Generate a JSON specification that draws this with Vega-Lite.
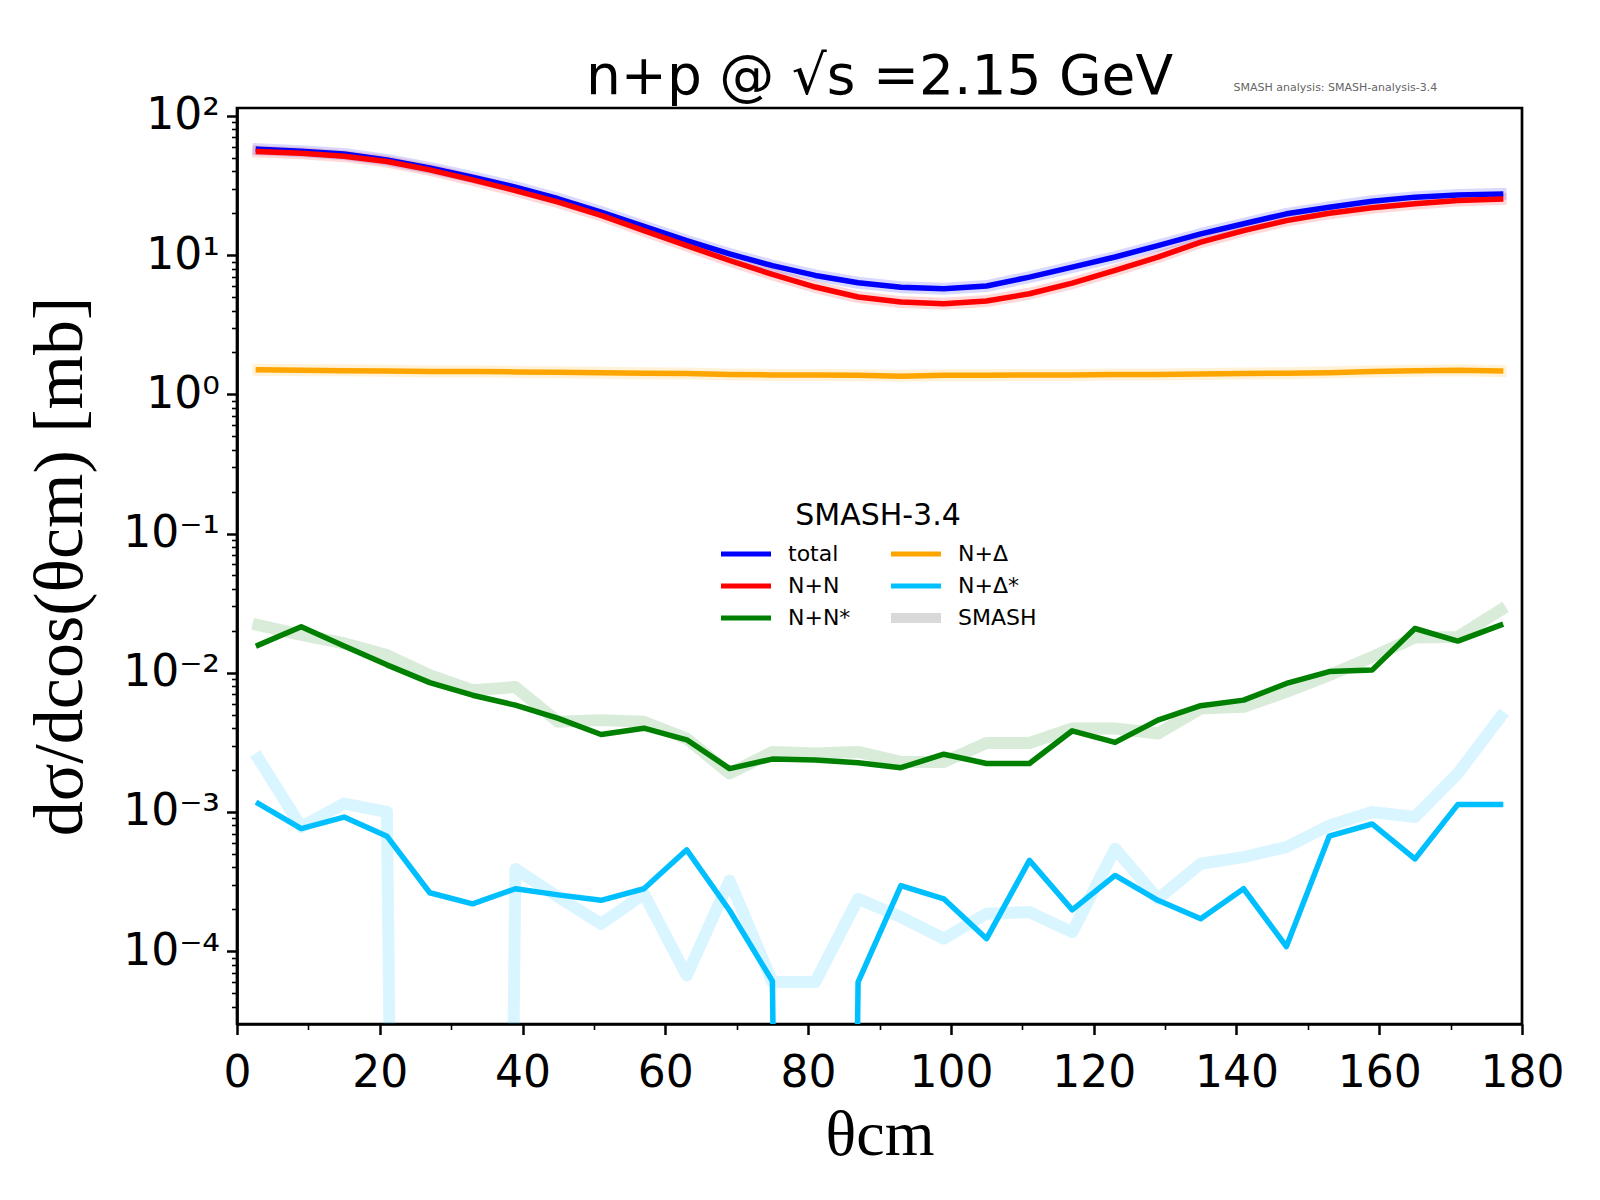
{
  "$schema": "https://vega.github.io/schema/vega-lite/v6.json",
  "autosize": {"type": "none"},
  "padding": {"left": 237, "top": 108, "right": 78, "bottom": 176},
  "width": 1285,
  "height": 916,
  "background": "white",
  "config": {
    "view": {"stroke": "black", "strokeWidth": 2.7},
    "axis": {"grid": false, "domainColor": "black", "domainWidth": 2.7, "tickColor": "black", "labelColor": "black", "titleColor": "black", "labelFont": "DejaVu Sans", "labelFontSize": 44, "labelOverlap": false, "labelFlush": false, "labelBound": false}
  },
  "title": {"text": "n+p @ √s =2.15 GeV", "font": "DejaVu Sans", "fontSize": 55, "fontWeight": "normal", "color": "black", "anchor": "middle", "frame": "group", "offset": 2, "dy": 26},
  "datasets": {
    "xs": [
      {"theta":3,"xsec":57.7,"channel":"total","source":"model"},{"theta":9,"xsec":55.7,"channel":"total","source":"model"},{"theta":15,"xsec":53.3,"channel":"total","source":"model"},{"theta":21,"xsec":48.3,"channel":"total","source":"model"},{"theta":27,"xsec":42.3,"channel":"total","source":"model"},{"theta":33,"xsec":36.3,"channel":"total","source":"model"},{"theta":39,"xsec":30.8,"channel":"total","source":"model"},{"theta":45,"xsec":25.4,"channel":"total","source":"model"},{"theta":51,"xsec":20.4,"channel":"total","source":"model"},{"theta":57,"xsec":16.1,"channel":"total","source":"model"},{"theta":63,"xsec":12.7,"channel":"total","source":"model"},{"theta":69,"xsec":10.2,"channel":"total","source":"model"},{"theta":75,"xsec":8.4,"channel":"total","source":"model"},{"theta":81,"xsec":7.15,"channel":"total","source":"model"},{"theta":87,"xsec":6.33,"channel":"total","source":"model"},{"theta":93,"xsec":5.89,"channel":"total","source":"model"},{"theta":99,"xsec":5.73,"channel":"total","source":"model"},{"theta":105,"xsec":6.0,"channel":"total","source":"model"},{"theta":111,"xsec":6.95,"channel":"total","source":"model"},{"theta":117,"xsec":8.2,"channel":"total","source":"model"},{"theta":123,"xsec":9.7,"channel":"total","source":"model"},{"theta":129,"xsec":11.7,"channel":"total","source":"model"},{"theta":135,"xsec":14.2,"channel":"total","source":"model"},{"theta":141,"xsec":16.8,"channel":"total","source":"model"},{"theta":147,"xsec":19.8,"channel":"total","source":"model"},{"theta":153,"xsec":22.1,"channel":"total","source":"model"},{"theta":159,"xsec":24.4,"channel":"total","source":"model"},{"theta":165,"xsec":26.1,"channel":"total","source":"model"},{"theta":171,"xsec":27.0,"channel":"total","source":"model"},{"theta":177,"xsec":27.5,"channel":"total","source":"model"},

      {"theta":3,"xsec":55.5,"channel":"N+N","source":"model"},{"theta":9,"xsec":54,"channel":"N+N","source":"model"},{"theta":15,"xsec":51.4,"channel":"N+N","source":"model"},{"theta":21,"xsec":47,"channel":"N+N","source":"model"},{"theta":27,"xsec":41,"channel":"N+N","source":"model"},{"theta":33,"xsec":34.7,"channel":"N+N","source":"model"},{"theta":39,"xsec":29.1,"channel":"N+N","source":"model"},{"theta":45,"xsec":24,"channel":"N+N","source":"model"},{"theta":51,"xsec":19.3,"channel":"N+N","source":"model"},{"theta":57,"xsec":15,"channel":"N+N","source":"model"},{"theta":63,"xsec":11.7,"channel":"N+N","source":"model"},{"theta":69,"xsec":9.15,"channel":"N+N","source":"model"},{"theta":75,"xsec":7.27,"channel":"N+N","source":"model"},{"theta":81,"xsec":5.9,"channel":"N+N","source":"model"},{"theta":87,"xsec":5.0,"channel":"N+N","source":"model"},{"theta":93,"xsec":4.6,"channel":"N+N","source":"model"},{"theta":99,"xsec":4.48,"channel":"N+N","source":"model"},{"theta":105,"xsec":4.68,"channel":"N+N","source":"model"},{"theta":111,"xsec":5.28,"channel":"N+N","source":"model"},{"theta":117,"xsec":6.29,"channel":"N+N","source":"model"},{"theta":123,"xsec":7.76,"channel":"N+N","source":"model"},{"theta":129,"xsec":9.68,"channel":"N+N","source":"model"},{"theta":135,"xsec":12.4,"channel":"N+N","source":"model"},{"theta":141,"xsec":15.0,"channel":"N+N","source":"model"},{"theta":147,"xsec":17.7,"channel":"N+N","source":"model"},{"theta":153,"xsec":20.0,"channel":"N+N","source":"model"},{"theta":159,"xsec":21.9,"channel":"N+N","source":"model"},{"theta":165,"xsec":23.4,"channel":"N+N","source":"model"},{"theta":171,"xsec":24.7,"channel":"N+N","source":"model"},{"theta":177,"xsec":25.3,"channel":"N+N","source":"model"},

      {"theta":3,"xsec":0.0158,"channel":"N+N*","source":"model"},{"theta":9,"xsec":0.0214,"channel":"N+N*","source":"model"},{"theta":15,"xsec":0.0156,"channel":"N+N*","source":"model"},{"theta":21,"xsec":0.0114,"channel":"N+N*","source":"model"},{"theta":27,"xsec":0.0085,"channel":"N+N*","source":"model"},{"theta":33,"xsec":0.0069,"channel":"N+N*","source":"model"},{"theta":39,"xsec":0.00585,"channel":"N+N*","source":"model"},{"theta":45,"xsec":0.0047,"channel":"N+N*","source":"model"},{"theta":51,"xsec":0.0036,"channel":"N+N*","source":"model"},{"theta":57,"xsec":0.0040,"channel":"N+N*","source":"model"},{"theta":63,"xsec":0.0033,"channel":"N+N*","source":"model"},{"theta":69,"xsec":0.00205,"channel":"N+N*","source":"model"},{"theta":75,"xsec":0.0024,"channel":"N+N*","source":"model"},{"theta":81,"xsec":0.00236,"channel":"N+N*","source":"model"},{"theta":87,"xsec":0.00226,"channel":"N+N*","source":"model"},{"theta":93,"xsec":0.00208,"channel":"N+N*","source":"model"},{"theta":99,"xsec":0.0026,"channel":"N+N*","source":"model"},{"theta":105,"xsec":0.00223,"channel":"N+N*","source":"model"},{"theta":111,"xsec":0.00223,"channel":"N+N*","source":"model"},{"theta":117,"xsec":0.00383,"channel":"N+N*","source":"model"},{"theta":123,"xsec":0.00316,"channel":"N+N*","source":"model"},{"theta":129,"xsec":0.00457,"channel":"N+N*","source":"model"},{"theta":135,"xsec":0.0058,"channel":"N+N*","source":"model"},{"theta":141,"xsec":0.00636,"channel":"N+N*","source":"model"},{"theta":147,"xsec":0.00838,"channel":"N+N*","source":"model"},{"theta":153,"xsec":0.0102,"channel":"N+N*","source":"model"},{"theta":159,"xsec":0.01045,"channel":"N+N*","source":"model"},{"theta":165,"xsec":0.0208,"channel":"N+N*","source":"model"},{"theta":171,"xsec":0.0169,"channel":"N+N*","source":"model"},{"theta":177,"xsec":0.022,"channel":"N+N*","source":"model"},

      {"theta":3,"xsec":1.50,"channel":"N+Δ","source":"model"},{"theta":9,"xsec":1.49,"channel":"N+Δ","source":"model"},{"theta":15,"xsec":1.48,"channel":"N+Δ","source":"model"},{"theta":21,"xsec":1.47,"channel":"N+Δ","source":"model"},{"theta":27,"xsec":1.46,"channel":"N+Δ","source":"model"},{"theta":33,"xsec":1.46,"channel":"N+Δ","source":"model"},{"theta":39,"xsec":1.45,"channel":"N+Δ","source":"model"},{"theta":45,"xsec":1.44,"channel":"N+Δ","source":"model"},{"theta":51,"xsec":1.43,"channel":"N+Δ","source":"model"},{"theta":57,"xsec":1.42,"channel":"N+Δ","source":"model"},{"theta":63,"xsec":1.41,"channel":"N+Δ","source":"model"},{"theta":69,"xsec":1.39,"channel":"N+Δ","source":"model"},{"theta":75,"xsec":1.38,"channel":"N+Δ","source":"model"},{"theta":81,"xsec":1.38,"channel":"N+Δ","source":"model"},{"theta":87,"xsec":1.37,"channel":"N+Δ","source":"model"},{"theta":93,"xsec":1.35,"channel":"N+Δ","source":"model"},{"theta":99,"xsec":1.37,"channel":"N+Δ","source":"model"},{"theta":105,"xsec":1.37,"channel":"N+Δ","source":"model"},{"theta":111,"xsec":1.38,"channel":"N+Δ","source":"model"},{"theta":117,"xsec":1.38,"channel":"N+Δ","source":"model"},{"theta":123,"xsec":1.39,"channel":"N+Δ","source":"model"},{"theta":129,"xsec":1.39,"channel":"N+Δ","source":"model"},{"theta":135,"xsec":1.40,"channel":"N+Δ","source":"model"},{"theta":141,"xsec":1.41,"channel":"N+Δ","source":"model"},{"theta":147,"xsec":1.42,"channel":"N+Δ","source":"model"},{"theta":153,"xsec":1.43,"channel":"N+Δ","source":"model"},{"theta":159,"xsec":1.46,"channel":"N+Δ","source":"model"},{"theta":165,"xsec":1.48,"channel":"N+Δ","source":"model"},{"theta":171,"xsec":1.49,"channel":"N+Δ","source":"model"},{"theta":177,"xsec":1.47,"channel":"N+Δ","source":"model"},

      {"theta":3,"xsec":0.00115,"channel":"N+Δ*","source":"model"},{"theta":9,"xsec":0.00076,"channel":"N+Δ*","source":"model"},{"theta":15,"xsec":0.00092,"channel":"N+Δ*","source":"model"},{"theta":21,"xsec":0.00067,"channel":"N+Δ*","source":"model"},{"theta":27,"xsec":0.000263,"channel":"N+Δ*","source":"model"},{"theta":33,"xsec":0.000219,"channel":"N+Δ*","source":"model"},{"theta":39,"xsec":0.000281,"channel":"N+Δ*","source":"model"},{"theta":45,"xsec":0.000254,"channel":"N+Δ*","source":"model"},{"theta":51,"xsec":0.000232,"channel":"N+Δ*","source":"model"},{"theta":57,"xsec":0.000281,"channel":"N+Δ*","source":"model"},{"theta":63,"xsec":0.000535,"channel":"N+Δ*","source":"model"},{"theta":69,"xsec":0.000196,"channel":"N+Δ*","source":"model"},{"theta":75,"xsec":0.000061,"channel":"N+Δ*","source":"model"},{"theta":81,"xsec":1e-30,"channel":"N+Δ*","source":"model"},{"theta":87,"xsec":0.00006,"channel":"N+Δ*","source":"model"},{"theta":93,"xsec":0.000296,"channel":"N+Δ*","source":"model"},{"theta":99,"xsec":0.000238,"channel":"N+Δ*","source":"model"},{"theta":105,"xsec":0.000123,"channel":"N+Δ*","source":"model"},{"theta":111,"xsec":0.000449,"channel":"N+Δ*","source":"model"},{"theta":117,"xsec":0.000198,"channel":"N+Δ*","source":"model"},{"theta":123,"xsec":0.00035,"channel":"N+Δ*","source":"model"},{"theta":129,"xsec":0.000232,"channel":"N+Δ*","source":"model"},{"theta":135,"xsec":0.000171,"channel":"N+Δ*","source":"model"},{"theta":141,"xsec":0.000281,"channel":"N+Δ*","source":"model"},{"theta":147,"xsec":0.000108,"channel":"N+Δ*","source":"model"},{"theta":153,"xsec":0.00067,"channel":"N+Δ*","source":"model"},{"theta":159,"xsec":0.00082,"channel":"N+Δ*","source":"model"},{"theta":165,"xsec":0.00046,"channel":"N+Δ*","source":"model"},{"theta":171,"xsec":0.00113,"channel":"N+Δ*","source":"model"},{"theta":177,"xsec":0.00113,"channel":"N+Δ*","source":"model"},

      {"theta":3,"xsec":57.7,"channel":"total","source":"SMASH"},{"theta":9,"xsec":55.7,"channel":"total","source":"SMASH"},{"theta":15,"xsec":53.3,"channel":"total","source":"SMASH"},{"theta":21,"xsec":48.3,"channel":"total","source":"SMASH"},{"theta":27,"xsec":42.3,"channel":"total","source":"SMASH"},{"theta":33,"xsec":36.3,"channel":"total","source":"SMASH"},{"theta":39,"xsec":30.8,"channel":"total","source":"SMASH"},{"theta":45,"xsec":25.4,"channel":"total","source":"SMASH"},{"theta":51,"xsec":20.4,"channel":"total","source":"SMASH"},{"theta":57,"xsec":16.1,"channel":"total","source":"SMASH"},{"theta":63,"xsec":12.7,"channel":"total","source":"SMASH"},{"theta":69,"xsec":10.2,"channel":"total","source":"SMASH"},{"theta":75,"xsec":8.4,"channel":"total","source":"SMASH"},{"theta":81,"xsec":7.15,"channel":"total","source":"SMASH"},{"theta":87,"xsec":6.33,"channel":"total","source":"SMASH"},{"theta":93,"xsec":5.89,"channel":"total","source":"SMASH"},{"theta":99,"xsec":5.73,"channel":"total","source":"SMASH"},{"theta":105,"xsec":6.0,"channel":"total","source":"SMASH"},{"theta":111,"xsec":6.95,"channel":"total","source":"SMASH"},{"theta":117,"xsec":8.2,"channel":"total","source":"SMASH"},{"theta":123,"xsec":9.7,"channel":"total","source":"SMASH"},{"theta":129,"xsec":11.7,"channel":"total","source":"SMASH"},{"theta":135,"xsec":14.2,"channel":"total","source":"SMASH"},{"theta":141,"xsec":16.8,"channel":"total","source":"SMASH"},{"theta":147,"xsec":19.8,"channel":"total","source":"SMASH"},{"theta":153,"xsec":22.1,"channel":"total","source":"SMASH"},{"theta":159,"xsec":24.4,"channel":"total","source":"SMASH"},{"theta":165,"xsec":26.1,"channel":"total","source":"SMASH"},{"theta":171,"xsec":27.0,"channel":"total","source":"SMASH"},{"theta":177,"xsec":27.5,"channel":"total","source":"SMASH"},

      {"theta":3,"xsec":55.5,"channel":"N+N","source":"SMASH"},{"theta":9,"xsec":54,"channel":"N+N","source":"SMASH"},{"theta":15,"xsec":51.4,"channel":"N+N","source":"SMASH"},{"theta":21,"xsec":47,"channel":"N+N","source":"SMASH"},{"theta":27,"xsec":41,"channel":"N+N","source":"SMASH"},{"theta":33,"xsec":34.7,"channel":"N+N","source":"SMASH"},{"theta":39,"xsec":29.1,"channel":"N+N","source":"SMASH"},{"theta":45,"xsec":24,"channel":"N+N","source":"SMASH"},{"theta":51,"xsec":19.3,"channel":"N+N","source":"SMASH"},{"theta":57,"xsec":15,"channel":"N+N","source":"SMASH"},{"theta":63,"xsec":11.7,"channel":"N+N","source":"SMASH"},{"theta":69,"xsec":9.15,"channel":"N+N","source":"SMASH"},{"theta":75,"xsec":7.27,"channel":"N+N","source":"SMASH"},{"theta":81,"xsec":5.9,"channel":"N+N","source":"SMASH"},{"theta":87,"xsec":5.0,"channel":"N+N","source":"SMASH"},{"theta":93,"xsec":4.6,"channel":"N+N","source":"SMASH"},{"theta":99,"xsec":4.48,"channel":"N+N","source":"SMASH"},{"theta":105,"xsec":4.68,"channel":"N+N","source":"SMASH"},{"theta":111,"xsec":5.28,"channel":"N+N","source":"SMASH"},{"theta":117,"xsec":6.29,"channel":"N+N","source":"SMASH"},{"theta":123,"xsec":7.76,"channel":"N+N","source":"SMASH"},{"theta":129,"xsec":9.68,"channel":"N+N","source":"SMASH"},{"theta":135,"xsec":12.4,"channel":"N+N","source":"SMASH"},{"theta":141,"xsec":15.0,"channel":"N+N","source":"SMASH"},{"theta":147,"xsec":17.7,"channel":"N+N","source":"SMASH"},{"theta":153,"xsec":20.0,"channel":"N+N","source":"SMASH"},{"theta":159,"xsec":21.9,"channel":"N+N","source":"SMASH"},{"theta":165,"xsec":23.4,"channel":"N+N","source":"SMASH"},{"theta":171,"xsec":24.7,"channel":"N+N","source":"SMASH"},{"theta":177,"xsec":25.3,"channel":"N+N","source":"SMASH"},

      {"theta":3,"xsec":0.022,"channel":"N+N*","source":"SMASH"},{"theta":9,"xsec":0.0187,"channel":"N+N*","source":"SMASH"},{"theta":15,"xsec":0.0163,"channel":"N+N*","source":"SMASH"},{"theta":21,"xsec":0.0134,"channel":"N+N*","source":"SMASH"},{"theta":27,"xsec":0.0096,"channel":"N+N*","source":"SMASH"},{"theta":33,"xsec":0.0075,"channel":"N+N*","source":"SMASH"},{"theta":39,"xsec":0.0079,"channel":"N+N*","source":"SMASH"},{"theta":45,"xsec":0.00444,"channel":"N+N*","source":"SMASH"},{"theta":51,"xsec":0.00457,"channel":"N+N*","source":"SMASH"},{"theta":57,"xsec":0.00444,"channel":"N+N*","source":"SMASH"},{"theta":63,"xsec":0.00337,"channel":"N+N*","source":"SMASH"},{"theta":69,"xsec":0.00189,"channel":"N+N*","source":"SMASH"},{"theta":75,"xsec":0.0027,"channel":"N+N*","source":"SMASH"},{"theta":81,"xsec":0.00263,"channel":"N+N*","source":"SMASH"},{"theta":87,"xsec":0.0027,"channel":"N+N*","source":"SMASH"},{"theta":93,"xsec":0.00229,"channel":"N+N*","source":"SMASH"},{"theta":99,"xsec":0.00229,"channel":"N+N*","source":"SMASH"},{"theta":105,"xsec":0.00313,"channel":"N+N*","source":"SMASH"},{"theta":111,"xsec":0.00313,"channel":"N+N*","source":"SMASH"},{"theta":117,"xsec":0.00398,"channel":"N+N*","source":"SMASH"},{"theta":123,"xsec":0.00398,"channel":"N+N*","source":"SMASH"},{"theta":129,"xsec":0.00366,"channel":"N+N*","source":"SMASH"},{"theta":135,"xsec":0.00553,"channel":"N+N*","source":"SMASH"},{"theta":141,"xsec":0.00569,"channel":"N+N*","source":"SMASH"},{"theta":147,"xsec":0.0073,"channel":"N+N*","source":"SMASH"},{"theta":153,"xsec":0.0096,"channel":"N+N*","source":"SMASH"},{"theta":159,"xsec":0.013,"channel":"N+N*","source":"SMASH"},{"theta":165,"xsec":0.0179,"channel":"N+N*","source":"SMASH"},{"theta":171,"xsec":0.0181,"channel":"N+N*","source":"SMASH"},{"theta":177,"xsec":0.0282,"channel":"N+N*","source":"SMASH"},

      {"theta":3,"xsec":1.50,"channel":"N+Δ","source":"SMASH"},{"theta":9,"xsec":1.49,"channel":"N+Δ","source":"SMASH"},{"theta":15,"xsec":1.49,"channel":"N+Δ","source":"SMASH"},{"theta":21,"xsec":1.48,"channel":"N+Δ","source":"SMASH"},{"theta":27,"xsec":1.46,"channel":"N+Δ","source":"SMASH"},{"theta":33,"xsec":1.46,"channel":"N+Δ","source":"SMASH"},{"theta":39,"xsec":1.45,"channel":"N+Δ","source":"SMASH"},{"theta":45,"xsec":1.44,"channel":"N+Δ","source":"SMASH"},{"theta":51,"xsec":1.43,"channel":"N+Δ","source":"SMASH"},{"theta":57,"xsec":1.42,"channel":"N+Δ","source":"SMASH"},{"theta":63,"xsec":1.41,"channel":"N+Δ","source":"SMASH"},{"theta":69,"xsec":1.39,"channel":"N+Δ","source":"SMASH"},{"theta":75,"xsec":1.38,"channel":"N+Δ","source":"SMASH"},{"theta":81,"xsec":1.38,"channel":"N+Δ","source":"SMASH"},{"theta":87,"xsec":1.37,"channel":"N+Δ","source":"SMASH"},{"theta":93,"xsec":1.36,"channel":"N+Δ","source":"SMASH"},{"theta":99,"xsec":1.37,"channel":"N+Δ","source":"SMASH"},{"theta":105,"xsec":1.37,"channel":"N+Δ","source":"SMASH"},{"theta":111,"xsec":1.38,"channel":"N+Δ","source":"SMASH"},{"theta":117,"xsec":1.38,"channel":"N+Δ","source":"SMASH"},{"theta":123,"xsec":1.39,"channel":"N+Δ","source":"SMASH"},{"theta":129,"xsec":1.39,"channel":"N+Δ","source":"SMASH"},{"theta":135,"xsec":1.40,"channel":"N+Δ","source":"SMASH"},{"theta":141,"xsec":1.41,"channel":"N+Δ","source":"SMASH"},{"theta":147,"xsec":1.42,"channel":"N+Δ","source":"SMASH"},{"theta":153,"xsec":1.44,"channel":"N+Δ","source":"SMASH"},{"theta":159,"xsec":1.46,"channel":"N+Δ","source":"SMASH"},{"theta":165,"xsec":1.48,"channel":"N+Δ","source":"SMASH"},{"theta":171,"xsec":1.49,"channel":"N+Δ","source":"SMASH"},{"theta":177,"xsec":1.47,"channel":"N+Δ","source":"SMASH"},

      {"theta":3,"xsec":0.00242,"channel":"N+Δ*","source":"SMASH"},{"theta":9,"xsec":0.00078,"channel":"N+Δ*","source":"SMASH"},{"theta":15,"xsec":0.00115,"channel":"N+Δ*","source":"SMASH"},{"theta":21,"xsec":0.001,"channel":"N+Δ*","source":"SMASH"},{"theta":27,"xsec":1e-30,"channel":"N+Δ*","source":"SMASH"},{"theta":33,"xsec":1e-30,"channel":"N+Δ*","source":"SMASH"},{"theta":39,"xsec":0.00039,"channel":"N+Δ*","source":"SMASH"},{"theta":45,"xsec":0.000245,"channel":"N+Δ*","source":"SMASH"},{"theta":51,"xsec":0.000157,"channel":"N+Δ*","source":"SMASH"},{"theta":57,"xsec":0.000258,"channel":"N+Δ*","source":"SMASH"},{"theta":63,"xsec":0.000067,"channel":"N+Δ*","source":"SMASH"},{"theta":69,"xsec":0.000322,"channel":"N+Δ*","source":"SMASH"},{"theta":75,"xsec":0.00006,"channel":"N+Δ*","source":"SMASH"},{"theta":81,"xsec":0.00006,"channel":"N+Δ*","source":"SMASH"},{"theta":87,"xsec":0.000238,"channel":"N+Δ*","source":"SMASH"},{"theta":93,"xsec":0.000176,"channel":"N+Δ*","source":"SMASH"},{"theta":99,"xsec":0.000123,"channel":"N+Δ*","source":"SMASH"},{"theta":105,"xsec":0.000186,"channel":"N+Δ*","source":"SMASH"},{"theta":111,"xsec":0.000191,"channel":"N+Δ*","source":"SMASH"},{"theta":117,"xsec":0.000137,"channel":"N+Δ*","source":"SMASH"},{"theta":123,"xsec":0.000545,"channel":"N+Δ*","source":"SMASH"},{"theta":129,"xsec":0.000238,"channel":"N+Δ*","source":"SMASH"},{"theta":135,"xsec":0.000425,"channel":"N+Δ*","source":"SMASH"},{"theta":141,"xsec":0.000474,"channel":"N+Δ*","source":"SMASH"},{"theta":147,"xsec":0.00056,"channel":"N+Δ*","source":"SMASH"},{"theta":153,"xsec":0.0008,"channel":"N+Δ*","source":"SMASH"},{"theta":159,"xsec":0.001,"channel":"N+Δ*","source":"SMASH"},{"theta":165,"xsec":0.00092,"channel":"N+Δ*","source":"SMASH"},{"theta":171,"xsec":0.00189,"channel":"N+Δ*","source":"SMASH"},{"theta":177,"xsec":0.00482,"channel":"N+Δ*","source":"SMASH"}
    ]
  },
  "encoding": {
    "x": {
      "field": "theta", "type": "quantitative",
      "scale": {"domain": [0, 180], "nice": false, "zero": false},
      "axis": {
        "title": "θcm", "titleFont": "Liberation Serif", "titleFontSize": 64, "titleFontWeight": "normal", "titlePadding": 8,
        "values": [0,10,20,30,40,50,60,70,80,90,100,110,120,130,140,150,160,170,180],
        "labelExpr": "datum.value % 20 === 0 ? datum.label : ''",
        "labelPadding": 17,
        "tickSize": {"condition": {"test": "datum.value % 20 === 0", "value": 10.5}, "value": 5.5},
        "tickWidth": {"condition": {"test": "datum.value % 20 === 0", "value": 2.5}, "value": 1.6}
      }
    },
    "y": {
      "field": "xsec", "type": "quantitative",
      "scale": {"type": "log", "domain": [0.00003, 114], "nice": false},
      "axis": {
        "title": "dσ/dcos(θcm) [mb]", "titleFont": "Liberation Serif", "titleFontSize": 70, "titleFontWeight": "normal", "titlePadding": 26,
        "values": [0.00004,0.00005,0.00006,0.00007,0.00008,0.00009,0.0001,0.0002,0.0003,0.0004,0.0005,0.0006,0.0007,0.0008,0.0009,0.001,0.002,0.003,0.004,0.005,0.006,0.007,0.008,0.009,0.01,0.02,0.03,0.04,0.05,0.06,0.07,0.08,0.09,0.1,0.2,0.3,0.4,0.5,0.6,0.7,0.8,0.9,1,2,3,4,5,6,7,8,9,10,20,30,40,50,60,70,80,90,100],
        "labelExpr": "datum.value == 100 ? '10²' : datum.value == 10 ? '10¹' : datum.value == 1 ? '10⁰' : datum.value == 0.1 ? '10⁻¹' : datum.value == 0.01 ? '10⁻²' : datum.value == 0.001 ? '10⁻³' : datum.value == 0.0001 ? '10⁻⁴' : ''",
        "labelPadding": 7,
        "tickSize": {"condition": {"test": "indexof([100,10,1,0.1,0.01,0.001,0.0001], datum.value) >= 0", "value": 10.5}, "value": 5.5},
        "tickWidth": {"condition": {"test": "indexof([100,10,1,0.1,0.01,0.001,0.0001], datum.value) >= 0", "value": 2.5}, "value": 1.6}
      }
    },
    "color": {"field": "channel", "type": "nominal",
      "scale": {"domain": ["total", "N+N", "N+N*", "N+Δ", "N+Δ*", "SMASH"], "range": ["#0000ff", "#ff0000", "#008000", "#ffa500", "#00bfff", "#d9d9d9"]},
      "legend": {
        "orient": "none", "legendX": 498, "legendY": 395, "columns": 2, "padding": 0,
        "title": "SMASH-3.4", "titleFont": "DejaVu Sans", "titleFontSize": 30, "titleFontWeight": "normal", "titleColor": "black", "titleAnchor": "middle", "titlePadding": 10,
        "labelFont": "DejaVu Sans", "labelFontSize": 22, "labelColor": "black", "labelOffset": 31,
        "symbolType": "stroke", "symbolSize": 2500, "symbolStrokeWidth": 10, "symbolOpacity": 1,
        "columnPadding": 35, "rowPadding": 10,
        "encode": {
          "symbols": {"update": {"strokeWidth": {"signal": "datum.value === 'SMASH' ? 10 : 5"}, "strokeJoin": {"value": "round"}}},
          "title": {"update": {"dx": {"value": -8}, "dy": {"value": -2}}}
        }
      }
    }
  },
  "layer": [
    {
      "data": {"name": "xs"},
      "transform": [{"filter": "datum.source === 'SMASH'"}],
      "mark": {"type": "line", "strokeWidth": 12, "opacity": 0.15, "clip": true, "strokeJoin": "round", "strokeCap": "square"}
    },
    {
      "data": {"name": "xs"},
      "transform": [{"filter": "datum.source === 'model'"}],
      "mark": {"type": "line", "strokeWidth": 5.5, "clip": true, "strokeJoin": "round", "strokeCap": "square"}
    },
    {
      "data": {"values": [{"note": "SMASH analysis: SMASH-analysis-3.4", "theta": 139.6, "xsec": 158}]},
      "mark": {"type": "text", "align": "left", "baseline": "middle", "fontSize": 11, "font": "DejaVu Sans", "clip": false},
      "encoding": {
        "text": {"field": "note", "type": "nominal"},
        "color": {"value": "#666666"}
      }
    }
  ]
}
